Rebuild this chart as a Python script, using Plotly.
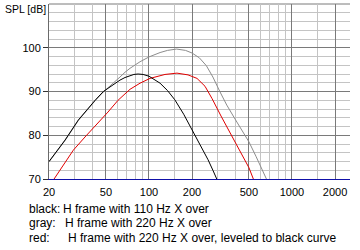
import math
import plotly.graph_objects as go

# ---- data ----
black_f = [20, 25.9, 32.1, 38.0, 42.3, 48.0, 53.4, 57.9, 62.7, 68.0, 73.7, 78.5, 83.9, 91.0, 100, 109, 119.6, 135, 151.7, 175, 200, 229, 259, 280, 298]
black_db = [74.0, 78.9, 83.5, 86.4, 88.1, 90.0, 91.1, 91.9, 92.6, 93.2, 93.6, 93.9, 94.0, 93.9, 93.5, 92.8, 91.9, 90.2, 88.1, 84.8, 81.3, 77.8, 74.4, 72.0, 70.0]

gray_f = [20, 25.9, 32.1, 38.0, 42.3, 48.0, 53.4, 57.9, 62.7, 68.0, 73.7, 86.6, 100, 119.6, 135, 156, 180, 200, 225, 252, 280, 313, 350, 400, 450, 500, 560, 620, 663]
gray_db = [73.9, 78.8, 83.4, 86.3, 88.0, 89.9, 91.2, 92.3, 93.3, 94.4, 95.3, 96.8, 97.9, 98.9, 99.4, 99.7, 99.4, 98.8, 97.7, 95.9, 93.3, 90.0, 86.9, 83.7, 81.0, 78.5, 75.2, 72.2, 70.0]

red_f = [21.7, 25.3, 29.6, 35.7, 43.3, 51.7, 60.8, 73.7, 86.6, 101.7, 129.5, 157, 187.5, 216.8, 246.6, 276, 319, 368.8, 433, 500, 537]
red_db = [70.0, 73.3, 76.6, 79.6, 82.5, 85.3, 88.0, 90.5, 91.9, 93.0, 93.9, 94.2, 93.8, 93.0, 91.2, 88.4, 84.4, 80.5, 76.2, 72.6, 70.0]

x_major = [20, 50, 100, 200, 500, 1000, 2000]
x_major_text = ["20", "50", "100", "200", "500", "1000", "2000"]
x_minor = [30, 40, 60, 70, 80, 90, 150, 300, 400, 600, 700, 800, 900, 1500]
y_major = [70, 80, 90, 100]
y_minor = [72, 74, 76, 78, 82, 84, 86, 88, 92, 94, 96, 98, 102, 104, 106, 108]

legend_labels = ["black:", "gray:", "red:"]
legend_texts = ["H frame with 110 Hz X over",
                "H frame with 220 Hz X over",
                "H frame with 220 Hz X over, leveled to black curve"]

# ---- layout geometry ----
W, H = 360, 250
L, R, T, B = 49, 10, 4, 71
PW, PH = W - L - R, H - T - B
FONT = "Liberation Sans, Arial, sans-serif"
FS = 10.5
NOTE_FS = 12
MAJOR = "#7a7a7a"
MINOR = "#c4c4c4"


def px(x, y):
    return (x - L) / PW, (H - B - y) / PH


fig = go.Figure()
fig.add_trace(go.Scatter(x=gray_f, y=gray_db, mode="lines",
                         line=dict(color="#8c8c8c", width=1)))
fig.add_trace(go.Scatter(x=red_f, y=red_db, mode="lines",
                         line=dict(color="#e00000", width=1)))
fig.add_trace(go.Scatter(x=black_f, y=black_db, mode="lines",
                         line=dict(color="#000000", width=1)))

fig.update_layout(
    width=W, height=H,
    margin=dict(l=L, r=R, t=T, b=B, pad=0),
    paper_bgcolor="white", plot_bgcolor="white",
    showlegend=False,
    font=dict(family=FONT, size=FS, color="black"),
    xaxis=dict(type="log", range=[math.log10(20), math.log10(2546)],
               tickmode="array", tickvals=x_major, ticktext=x_major_text,
               showgrid=True, gridcolor=MAJOR, gridwidth=1,
               minor=dict(tickmode="array", tickvals=x_minor, showgrid=True,
                          gridcolor=MINOR, gridwidth=1, ticks=""),
               ticks="", showline=True, linecolor="#1010a8", linewidth=1,
               zeroline=False, tickfont=dict(family=FONT, size=11, color="black"),
               ticklabelstandoff=3),
    yaxis=dict(range=[70, 110], tickmode="array", tickvals=y_major,
               ticktext=[str(v) for v in y_major],
               showgrid=True, gridcolor=MAJOR, gridwidth=1,
               minor=dict(tickmode="array", tickvals=y_minor, showgrid=True,
                          gridcolor=MINOR, gridwidth=1, ticks=""),
               ticks="outside", ticklen=5, tickcolor="#333333", tickwidth=1,
               showline=True, linecolor="#6a6a6a", linewidth=1,
               zeroline=False, tickfont=dict(family=FONT, size=11, color="black")),
)

# top frame line (major grid at 110 dB)
fig.add_shape(type="line", xref="paper", yref="paper", x0=0, x1=1, y0=1, y1=1,
              line=dict(color=MAJOR, width=1), layer="below")

# y axis title
x0, y0 = px(3, 9)
fig.add_annotation(text="SPL [dB]", xref="paper", yref="paper", x=x0, y=y0,
                   xanchor="left", yanchor="middle", showarrow=False,
                   font=dict(family=FONT, size=FS, color="black"))

# notes under the chart
label_x = 27
text_x = [61, 63, 66]
rows_y = [209, 223.3, 237.6]
for lab, txt, tx, ry in zip(legend_labels, legend_texts, text_x, rows_y):
    ax, ay = px(label_x, ry)
    fig.add_annotation(text=lab, xref="paper", yref="paper", x=ax, y=ay,
                       xanchor="left", yanchor="middle", showarrow=False,
                       font=dict(family=FONT, size=NOTE_FS, color="black"))
    bx, by = px(tx, ry)
    fig.add_annotation(text=txt, xref="paper", yref="paper", x=bx, y=by,
                       xanchor="left", yanchor="middle", showarrow=False,
                       font=dict(family=FONT, size=NOTE_FS, color="black"))

fig.write_html("out.html")
